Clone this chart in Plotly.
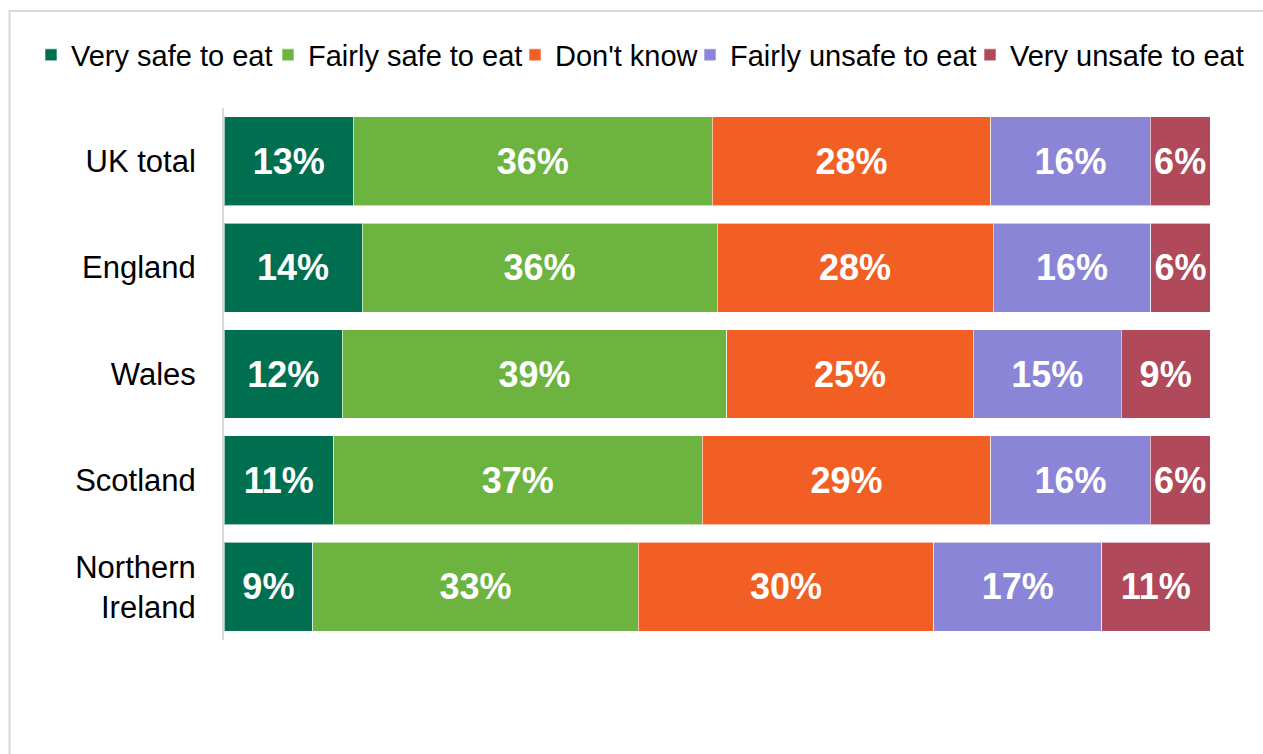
import plotly.graph_objects as go

categories = ["UK total", "England", "Wales", "Scotland", "Northern<br>Ireland"]
series_names = ["Very safe to eat", "Fairly safe to eat", "Don't know",
                "Fairly unsafe to eat", "Very unsafe to eat"]
very_safe = [13, 14, 12, 11, 9]
fairly_safe = [36, 36, 39, 37, 33]
dont_know = [28, 28, 25, 29, 30]
fairly_unsafe = [16, 16, 15, 16, 17]
very_unsafe = [6, 6, 9, 6, 11]
colors = ["#006F4F", "#6DB33F", "#F15F24", "#8B85D7", "#B04A5A"]

values = [very_safe, fairly_safe, dont_know, fairly_unsafe, very_unsafe]
legend_ids = ["legend", "legend2", "legend3", "legend4", "legend5"]
legend_text_x = [71, 308, 555, 730, 1010]   # pixel x where each legend label starts

W, H = 1263, 754
fig = go.Figure()
for name, vals, col, lid in zip(series_names, values, colors, legend_ids):
    fig.add_trace(go.Bar(
        y=categories, x=vals, name=name, orientation="h", legend=lid,
        marker=dict(color=col, line=dict(color="rgba(255,255,255,0.6)", width=1)),
        text=[f"{v}%" for v in vals], textposition="inside",
        insidetextanchor="middle", textangle=0,
        textfont=dict(family="Liberation Sans, Arial", size=36, color="white", weight="bold"),
        hoverinfo="skip",
    ))

legend_common = dict(orientation="h", xref="container", yref="container",
                     xanchor="left", yanchor="middle", y=1 - 55 / H,
                     font=dict(size=29, color="#000000", family="Liberation Sans, Arial"),
                     bgcolor="rgba(0,0,0,0)", borderwidth=0, itemwidth=30)
legend_layout = {}
for lid, tx in zip(legend_ids, legend_text_x):
    legend_layout[lid] = dict(legend_common, x=(tx - 40) / W)

fig.update_layout(
    barmode="stack", barnorm="percent", bargap=0.164,
    width=W, height=H,
    margin=dict(l=224, r=53, t=108, b=114),
    paper_bgcolor="white", plot_bgcolor="white",
    font=dict(family="Liberation Sans, Arial", color="#000000"),
    showlegend=True,
    **legend_layout,
)
fig.update_xaxes(range=[0, 100], visible=False, showgrid=False, zeroline=False)
fig.update_yaxes(autorange="reversed", showline=True, linecolor="#D9D9D9", linewidth=2,
                 showgrid=False, ticks="", tickfont=dict(size=31, color="#000000"),
                 ticklabelstandoff=20)

# outer chart border (partially visible, top and left)
fig.add_shape(type="rect", xref="paper", yref="paper",
              x0=(9.5 - 224) / 986, x1=(1275 - 224) / 986,
              y0=(640 - 770) / 532, y1=(640 - 11) / 532,
              line=dict(color="#D9D9D9", width=2), fillcolor="rgba(0,0,0,0)", layer="below")

fig.write_html("out.html", config={"displayModeBar": False},
               post_script="document.body.style.margin='0';document.body.style.padding='0';")
